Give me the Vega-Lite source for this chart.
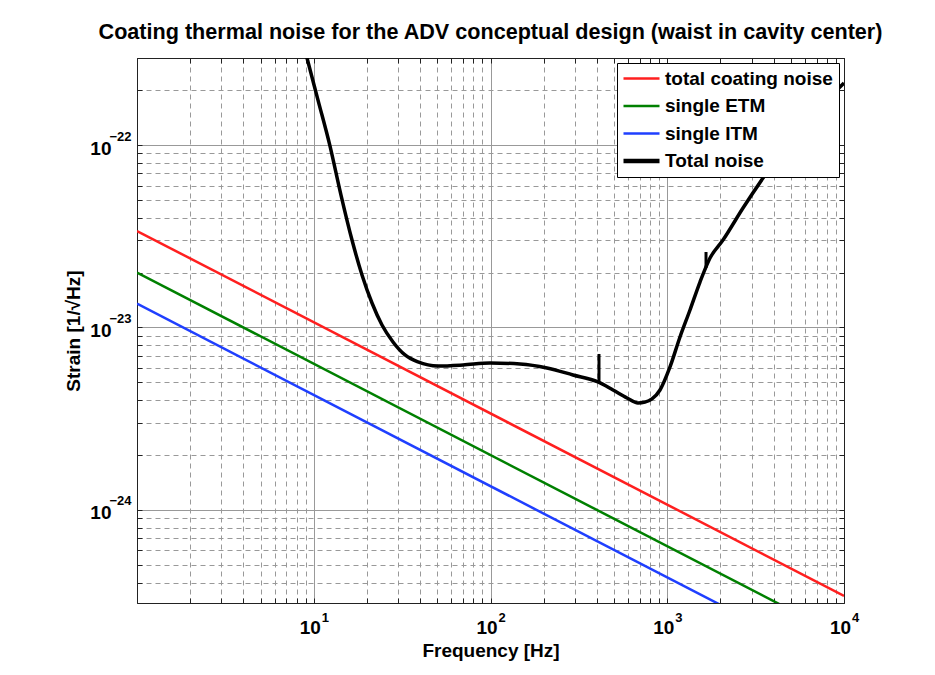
{
  "$schema": "https://vega.github.io/schema/vega-lite/v6.json",
  "width": 707,
  "height": 545,
  "autosize": {"type": "none"},
  "padding": {"left": 137, "top": 58, "right": 91, "bottom": 72},
  "background": "white",
  "title": {
    "text": "Coating thermal noise for the ADV conceptual design (waist in cavity center)",
    "font": "Liberation Sans",
    "fontSize": 21.6,
    "fontWeight": "bold",
    "color": "black",
    "anchor": "middle",
    "offset": 8
  },
  "datasets": {
    "coating": [
      {"series": "total coating noise", "f": 1, "h": 3.38e-23, "i": 0},
      {"series": "total coating noise", "f": 10000, "h": 3.38e-25, "i": 1},
      {"series": "single ETM", "f": 1, "h": 2.0e-23, "i": 0},
      {"series": "single ETM", "f": 10000, "h": 2.0e-25, "i": 1},
      {"series": "single ITM", "f": 1, "h": 1.35e-23, "i": 0},
      {"series": "single ITM", "f": 10000, "h": 1.35e-25, "i": 1}
    ],
    "total": [
      {"series": "Total noise", "f": 9.0, "h": 3.21e-22, "i": 0},
      {"series": "Total noise", "f": 9.16, "h": 3.0e-22, "i": 1},
      {"series": "Total noise", "f": 10.57, "h": 1.764e-22, "i": 2},
      {"series": "Total noise", "f": 12.36, "h": 9.87e-23, "i": 3},
      {"series": "Total noise", "f": 14.26, "h": 5.32e-23, "i": 4},
      {"series": "Total noise", "f": 16.46, "h": 3.015e-23, "i": 5},
      {"series": "Total noise", "f": 18.75, "h": 1.94e-23, "i": 6},
      {"series": "Total noise", "f": 21.36, "h": 1.362e-23, "i": 7},
      {"series": "Total noise", "f": 24.33, "h": 1.032e-23, "i": 8},
      {"series": "Total noise", "f": 28.08, "h": 8.33e-24, "i": 9},
      {"series": "Total noise", "f": 32.83, "h": 7.07e-24, "i": 10},
      {"series": "Total noise", "f": 38.89, "h": 6.47e-24, "i": 11},
      {"series": "Total noise", "f": 50.47, "h": 6.15e-24, "i": 12},
      {"series": "Total noise", "f": 69.88, "h": 6.23e-24, "i": 13},
      {"series": "Total noise", "f": 99.4, "h": 6.39e-24, "i": 14},
      {"series": "Total noise", "f": 146.9, "h": 6.31e-24, "i": 15},
      {"series": "Total noise", "f": 208.8, "h": 6.0e-24, "i": 16},
      {"series": "Total noise", "f": 293.0, "h": 5.49e-24, "i": 17},
      {"series": "Total noise", "f": 405.8, "h": 5.03e-24, "i": 18},
      {"series": "Total noise", "f": 493.3, "h": 4.545e-24, "i": 19},
      {"series": "Total noise", "f": 592.0, "h": 4.11e-24, "i": 20},
      {"series": "Total noise", "f": 683.2, "h": 3.86e-24, "i": 21},
      {"series": "Total noise", "f": 748.4, "h": 3.9e-24, "i": 22},
      {"series": "Total noise", "f": 819.9, "h": 4.06e-24, "i": 23},
      {"series": "Total noise", "f": 909.9, "h": 4.545e-24, "i": 24},
      {"series": "Total noise", "f": 1036.5, "h": 6.08e-24, "i": 25},
      {"series": "Total noise", "f": 1180.6, "h": 8.87e-24, "i": 26},
      {"series": "Total noise", "f": 1345.0, "h": 1.247e-23, "i": 27},
      {"series": "Total noise", "f": 1532.0, "h": 1.775e-23, "i": 28},
      {"series": "Total noise", "f": 1745.6, "h": 2.403e-23, "i": 29},
      {"series": "Total noise", "f": 2067.0, "h": 3.015e-23, "i": 30},
      {"series": "Total noise", "f": 2683.0, "h": 4.516e-23, "i": 31},
      {"series": "Total noise", "f": 3481.0, "h": 6.594e-23, "i": 32},
      {"series": "Total noise", "f": 4517.0, "h": 9.39e-23, "i": 33},
      {"series": "Total noise", "f": 5862.0, "h": 1.27e-22, "i": 34},
      {"series": "Total noise", "f": 7606.0, "h": 1.678e-22, "i": 35},
      {"series": "Total noise", "f": 10000.0, "h": 2.187e-22, "i": 36}
    ],
    "spikes": [
      {"f": 411, "h": 5.0e-24, "h2": 7.16e-24},
      {"f": 1657, "h": 2.12e-23, "h2": 2.593e-23}
    ]
  },
  "layer": [
    {
      "data": {"name": "coating"},
      "mark": {"type": "line", "clip": true, "strokeWidth": 2.5},
      "encoding": {
        "x": {
          "field": "f", "type": "quantitative",
          "scale": {"type": "log", "domain": [1, 10000], "nice": false},
          "axis": {
            "orient": "bottom",
            "values": [2,3,4,5,6,7,8,9,10,20,30,40,50,60,70,80,90,100,200,300,400,500,600,700,800,900,1000,2000,3000,4000,5000,6000,7000,8000,9000,10000],
            "labelExpr": "datum.value == 10 || datum.value == 100 || datum.value == 1000 || datum.value == 10000 ? '10' : ''",
            "labelFontSize": 19,
            "labelOffset": -4,
            "grid": true,
            "gridColor": "#999999",
            "gridDash": {"condition": {"test": "datum.value == 10 || datum.value == 100 || datum.value == 1000", "value": []}, "value": [5, 4]},
            "tickSize": -5,
            "labelOverlap": false,
            "labelFlush": false,
            "labelPadding": 20,
            "title": "Frequency [Hz]",
            "titlePadding": 4
          }
        },
        "y": {
          "field": "h", "type": "quantitative",
          "scale": {"type": "log", "domain": [3.09e-25, 3e-22], "nice": false},
          "axis": {
            "orient": "left",
            "values": [4e-25,5e-25,6e-25,7e-25,8e-25,9e-25,1e-24,2e-24,3e-24,4e-24,5e-24,6e-24,7e-24,8e-24,9e-24,1e-23,2e-23,3e-23,4e-23,5e-23,6e-23,7e-23,8e-23,9e-23,1e-22,2e-22,3e-22],
            "labelExpr": "datum.value == 1e-22 || datum.value == 1e-23 || datum.value == 1e-24 ? '10' : ''",
            "labelFontSize": 19,
            "labelOffset": 3,
            "grid": true,
            "gridColor": "#999999",
            "gridDash": {"condition": {"test": "datum.value == 1e-22 || datum.value == 1e-23 || datum.value == 1e-24", "value": []}, "value": [5, 4]},
            "tickSize": -5,
            "labelOverlap": false,
            "labelFlush": false,
            "labelPadding": 31,
            "title": "Strain [1/√Hz]",
            "titlePadding": 6
          }
        },
        "color": {
          "field": "series", "type": "nominal",
          "scale": {
            "domain": ["total coating noise", "single ETM", "single ITM", "Total noise"],
            "range": ["#ff1f1f", "#008000", "#1f3fff", "#000000"]
          },
          "legend": {
            "title": null,
            "orient": "top-right",
            "offset": 5,
            "fillColor": "white",
            "strokeColor": "black",
            "padding": 6,
            "symbolType": "stroke",
            "symbolSize": 1296,
            "symbolOffset": 9,
            "symbolStrokeWidth": 2.5,
            "labelFont": "Liberation Sans",
            "labelFontWeight": "bold",
            "labelFontSize": 19,
            "labelColor": "black",
            "labelOffset": 14,
            "labelLimit": 400,
            "rowPadding": 7.5,
            "encode": {"symbols": {"update": {"strokeWidth": {"signal": "datum.value === 'Total noise' ? 4.5 : 2.5"}}}}
          }
        },
        "order": {"field": "i", "type": "quantitative"}
      }
    },
    {
      "data": {"name": "total"},
      "mark": {"type": "line", "clip": true, "strokeWidth": 3.5, "interpolate": "monotone"},
      "encoding": {
        "x": {
          "field": "f", "type": "quantitative",
          "axis": {
            "orient": "top",
            "values": [2,3,4,5,6,7,8,9,10,20,30,40,50,60,70,80,90,100,200,300,400,500,600,700,800,900,1000,2000,3000,4000,5000,6000,7000,8000,9000,10000],
            "labels": false, "grid": false, "tickSize": -5, "title": null
          }
        },
        "y": {
          "field": "h", "type": "quantitative",
          "axis": {
            "orient": "right",
            "values": [4e-25,5e-25,6e-25,7e-25,8e-25,9e-25,1e-24,2e-24,3e-24,4e-24,5e-24,6e-24,7e-24,8e-24,9e-24,1e-23,2e-23,3e-23,4e-23,5e-23,6e-23,7e-23,8e-23,9e-23,1e-22,2e-22,3e-22],
            "labels": false, "grid": false, "tickSize": -5, "title": null
          }
        },
        "color": {"field": "series", "type": "nominal"},
        "order": {"field": "i", "type": "quantitative"}
      }
    },
    {
      "data": {"name": "spikes"},
      "mark": {"type": "rule", "color": "black", "strokeWidth": 3},
      "encoding": {
        "x": {
          "field": "f", "type": "quantitative",
          "axis": {
            "orient": "bottom",
            "values": [10, 100, 1000, 10000],
            "labelExpr": "datum.value == 10 ? '1' : datum.value == 100 ? '2' : datum.value == 1000 ? '3' : '4'",
            "labelFontSize": 13,
            "labelOffset": 11,
            "labelPadding": 8,
            "labelOverlap": false,
            "labelFlush": false,
            "ticks": false, "tickSize": 0, "domain": false, "grid": false, "title": null
          }
        },
        "y": {
          "field": "h", "type": "quantitative",
          "axis": {
            "orient": "left",
            "values": [1e-22, 1e-23, 1e-24],
            "labelExpr": "datum.value == 1e-22 ? '−22' : datum.value == 1e-23 ? '−23' : '−24'",
            "labelFontSize": 13,
            "labelOffset": -9,
            "labelPadding": 6,
            "labelOverlap": false,
            "labelFlush": false,
            "ticks": false, "tickSize": 0, "domain": false, "grid": false, "title": null
          }
        },
        "y2": {"field": "h2"}
      }
    }
  ],
  "resolve": {"axis": {"x": "independent", "y": "independent"}},
  "config": {
    "font": "Liberation Sans",
    "view": {"stroke": "#222222", "strokeWidth": 1},
    "axis": {
      "labelFont": "Liberation Sans",
      "labelFontWeight": "bold",
      "labelFontSize": 18,
      "labelColor": "black",
      "titleFont": "Liberation Sans",
      "titleFontWeight": "bold",
      "titleFontSize": 19,
      "titleColor": "black",
      "domainColor": "#222222",
      "domainWidth": 1,
      "tickColor": "#222222",
      "tickWidth": 1
    }
  }
}
